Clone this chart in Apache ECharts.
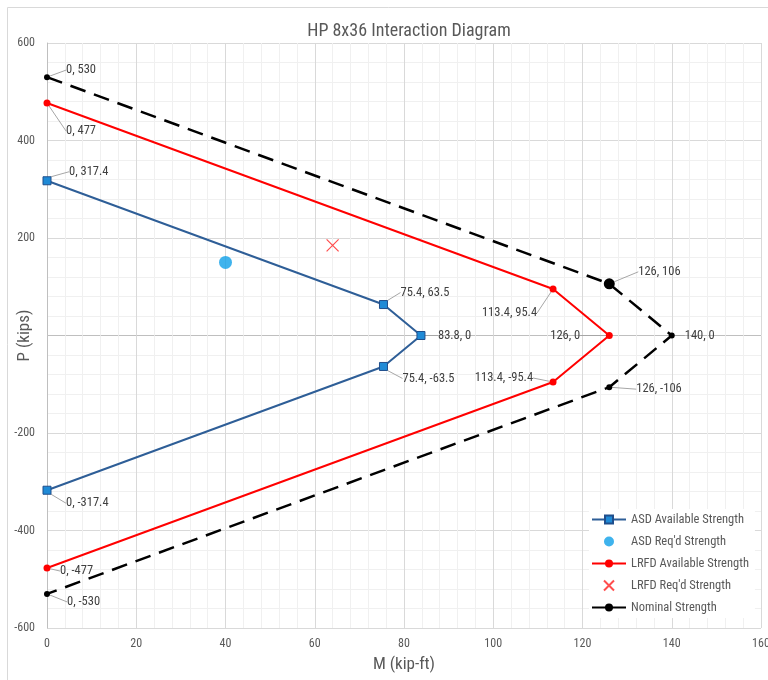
<!DOCTYPE html>
<html><head><meta charset="utf-8">
<script src="https://cdn.jsdelivr.net/npm/echarts@6/dist/echarts.min.js"></script>
<style>html,body{margin:0;padding:0;background:#fff}#c{width:768px;height:680px}</style>
</head><body><div id="c"></div>
<script>
// ---- data ----
var asdM = [0, 75.4, 83.8, 75.4, 0];
var asdP = [317.4, 63.5, 0, -63.5, -317.4];
var asdReqM = [40];
var asdReqP = [150];
var lrfdM = [0, 113.4, 126, 113.4, 0];
var lrfdP = [477, 95.4, 0, -95.4, -477];
var lrfdReqM = [64];
var lrfdReqP = [185];
var nomM = [0, 126, 140, 126, 0];
var nomP = [530, 106, 0, -106, -530];
var xTicks = [0, 20, 40, 60, 80, 100, 120, 140, 160];
var yTicks = [-600, -400, -200, 0, 200, 400, 600];
var seriesNames = ['ASD Available Strength', "ASD Req'd Strength", 'LRFD Available Strength', "LRFD Req'd Strength", 'Nominal Strength'];

// ---- label layout (offsets from point center, px) ----
var labelOffsets = {
  0: [[22,-9,'left'],[17,-12,'left'],[17,0,'left'],[19,12,'left'],[19,13,'left']],
  2: [[19,28,'left'],[-16,24,'right'],[-29,0,'right'],[-20,-4,'right'],[13,3,'left']],
  4: [[19,-7,'left'],[29,-12,'left'],[13,0,'left'],[27,2,'left'],[20,8,'left']]
};

var FONT = "'Liberation Sans Narrow','Arial Narrow','Roboto Condensed',sans-serif";
function pts(m, p){ return m.map(function(v,i){ return [v, p[i]]; }); }
function fmt(p){ return p.value[0] + ', ' + p.value[1]; }

var chart = echarts.init(document.getElementById('c'));
var labelCommon = { show: true, formatter: fmt, color: '#404040', fontSize: 12.5, fontFamily: FONT };
var labelLineCommon = { show: true, lineStyle: { color: '#a6a6a6', width: 1 } };
function layoutFn(params){
  var off = labelOffsets[params.seriesIndex];
  if (!off) return {};
  var o = off[params.dataIndex];
  var r = params.rect;
  var cx = r.x + r.width/2, cy = r.y + r.height/2;
  return { x: cx + o[0], y: cy + o[1], align: o[2], verticalAlign: 'middle' };
}

var nomData = pts(nomM, nomP).map(function(d,i){
  return i === 1 ? { value: d, symbolSize: 11 } : { value: d };
});

chart.setOption({
  animation: false,
  textStyle: { fontFamily: FONT },
  graphic: [{ type: 'rect', shape: { x: 7.5, y: 7.5, width: 800, height: 700 }, style: { fill: 'none', stroke: '#d9d9d9', lineWidth: 1 }, silent: true }],
  title: { text: 'HP 8x36 Interaction Diagram', left: 404, textAlign: 'center', top: 17,
    textStyle: { fontFamily: FONT, fontSize: 18, fontWeight: 'normal', color: '#595959' } },
  grid: { left: 47, right: 7, top: 43, bottom: 52, containLabel: false, outerBoundsMode: 'none' },
  xAxis: { type: 'value', min: 0, max: 160, interval: 20,
    name: 'M (kip-ft)', nameLocation: 'middle', nameGap: 28, nameMoveOverlap: false,
    nameTextStyle: { fontSize: 17, color: '#595959', fontFamily: FONT },
    axisLine: { show: false, onZero: false }, axisTick: { show: false },
    axisLabel: { color: '#595959', fontSize: 12, margin: 10, fontFamily: FONT },
    splitLine: { show: true, lineStyle: { color: '#d9d9d9', width: 1 } },
    minorTick: { show: false, splitNumber: 5 },
    minorSplitLine: { show: true, lineStyle: { color: '#f0f0f0', width: 1 } } },
  yAxis: { type: 'value', min: -600, max: 600, interval: 200,
    name: 'P (kips)', nameLocation: 'middle', nameGap: 14, nameRotate: 90, nameMoveOverlap: false,
    nameTextStyle: { fontSize: 17, color: '#595959', fontFamily: FONT },
    axisLine: { show: true, onZero: false, lineStyle: { color: '#bfbfbf' } }, axisTick: { show: false },
    axisLabel: { color: '#595959', fontSize: 12, margin: 12, fontFamily: FONT,
      formatter: function(v){ return v === 0 ? '' : String(v); } },
    splitLine: { show: true, lineStyle: { color: ['#d9d9d9','#d9d9d9','#d9d9d9','#bfbfbf','#d9d9d9','#d9d9d9','#d9d9d9'], width: 1 } },
    minorTick: { show: false, splitNumber: 5 },
    minorSplitLine: { show: true, lineStyle: { color: '#f0f0f0', width: 1 } } },
  legend: {
    orient: 'vertical', left: 589, top: 509, itemGap: 9, itemWidth: 34, itemHeight: 10,
    backgroundColor: '#ffffff', padding: [4, 6, 4, 2],
    textStyle: { color: '#595959', fontSize: 12.5, fontFamily: FONT },
    data: [
      { name: seriesNames[0] },
      { name: seriesNames[1] },
      { name: seriesNames[2] },
      { name: seriesNames[3] },
      { name: seriesNames[4], lineStyle: { type: 'solid' } }
    ]
  },
  series: [
    { name: seriesNames[0], type: 'line', data: pts(asdM, asdP), z: 5,
      lineStyle: { color: '#2E5E97', width: 2 }, itemStyle: { color: '#1F8AD6', borderColor: '#1F4E8C', borderWidth: 1 },
      symbol: 'rect', symbolSize: 8, showAllSymbol: true,
      label: labelCommon, labelLine: labelLineCommon, labelLayout: layoutFn },
    { name: seriesNames[1], type: 'scatter', data: pts(asdReqM, asdReqP), z: 5,
      symbol: 'circle', symbolSize: 13, itemStyle: { color: '#0FA0E8' } },
    { name: seriesNames[2], type: 'line', data: pts(lrfdM, lrfdP), z: 4,
      lineStyle: { color: '#FF0000', width: 2 }, itemStyle: { color: '#FF0000' },
      symbol: 'circle', symbolSize: 7, showAllSymbol: true,
      label: labelCommon, labelLine: labelLineCommon, labelLayout: layoutFn },
    { name: seriesNames[3], type: 'scatter', data: pts(lrfdReqM, lrfdReqP), z: 5,
      symbol: 'path://M0,0L10,10M10,0L0,10', symbolSize: 12,
      itemStyle: { color: 'rgba(0,0,0,0)', borderColor: '#FF2020', borderWidth: 1.2 } },
    { name: seriesNames[4], type: 'line', data: nomData, z: 3,
      lineStyle: { color: '#000000', width: 2.5, type: [16, 9] }, itemStyle: { color: '#000000' },
      symbol: 'circle', symbolSize: 6, showAllSymbol: true,
      label: labelCommon, labelLine: labelLineCommon, labelLayout: layoutFn }
  ]
});
</script></body></html>
